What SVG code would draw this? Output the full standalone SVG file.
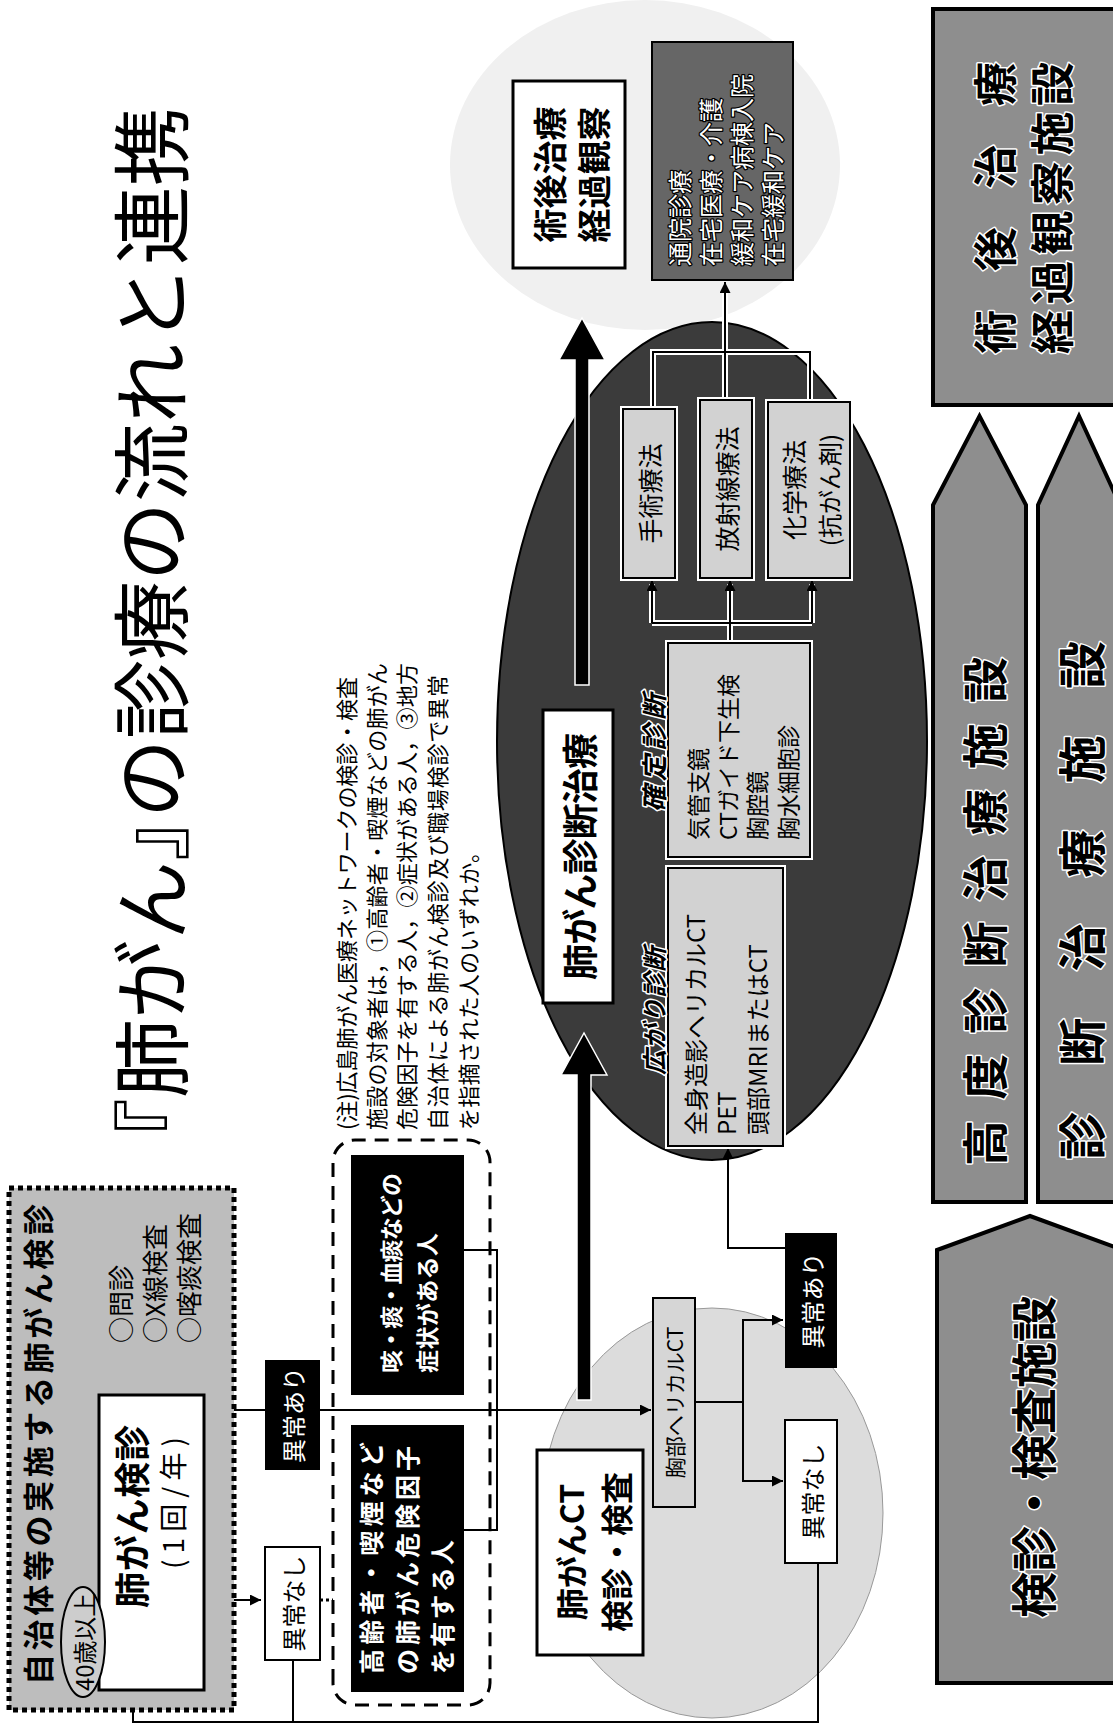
<svg xmlns="http://www.w3.org/2000/svg" width="1113" height="1732" viewBox="0 0 1113 1732">
<defs>
<style>
text{font-family:"Noto Sans CJK JP","Noto Sans CJK SC",sans-serif;dominant-baseline:central;fill:#000}
.c{stroke:#000;stroke-width:2;fill:none}
.cw{stroke:#fff;stroke-width:6;fill:none}
.wt{fill:#fff}
.b{font-weight:bold}
.halo{fill:#000;stroke:#fff;stroke-width:3;paint-order:stroke;stroke-linejoin:round}
.whalo{fill:#fff;stroke:#000;stroke-width:2.5;paint-order:stroke;stroke-linejoin:round}
.wbox{fill:#fff;stroke:#000;stroke-width:3}
.lb{fill:#d2d2d2;stroke:#000;stroke-width:2}
.rim{fill:none;stroke:#fff;stroke-width:6}
.fac{fill:#8e8e8e;stroke:#000;stroke-width:4}
.mid{text-anchor:middle}
.big{fill:#000;stroke:#fff;stroke-width:1.5}
</style>
<marker id="ah" viewBox="0 0 10 10" refX="10" refY="5" markerWidth="13" markerHeight="11" markerUnits="userSpaceOnUse" orient="auto"><path d="M0,0L10,5L0,10z" fill="#000"/></marker>
</defs>
<rect width="1113" height="1732" fill="#fff"/>
<g transform="translate(0 1732) rotate(-90)">

<g id="backgrounds">
<ellipse id="area-followup" cx="1567" cy="645" rx="165" ry="195" fill="#f0f0f0"/>
<ellipse id="area-ct" cx="219" cy="712" rx="205" ry="171" fill="#dcdcdc" stroke="#999" stroke-width="1"/>
<ellipse id="area-diagnosis" cx="991" cy="712" rx="419" ry="215" fill="#3b3b3b" stroke="#000" stroke-width="2"/>
</g>

<g id="n-title"><text x="555" y="147" font-size="79">『肺がん』<tspan dx="-36">の診療の流れと連携</tspan></text></g>

<g id="n-note" font-size="22">
<text x="602" y="345" textLength="453" lengthAdjust="spacing">(注)広島肺がん医療ネットワークの検診・検査</text>
<text x="602" y="375" textLength="467" lengthAdjust="spacing">施設の対象者は，①高齢者・喫煙などの肺がん</text>
<text x="602" y="405" textLength="467" lengthAdjust="spacing">危険因子を有する人，②症状がある人，③地方</text>
<text x="602" y="436" textLength="455" lengthAdjust="spacing">自治体による肺がん検診及び職場検診で異常</text>
<text x="602" y="467" textLength="289" lengthAdjust="spacing">を指摘された人のいずれか。</text>
</g>

<g id="connectors">
<path class="c" d="M220 204 L220 222"/>
<path class="c" d="M322 222 L132 222 L132 261" marker-end="url(#ah)"/>
<path class="c" d="M322 222 L322 651" marker-end="url(#ah)"/>
<path d="M132 320 L132 333" stroke="#000" stroke-width="3" stroke-dasharray="3 3"/>
<path class="c" d="M482 464 L482 497 L202 497 L202 464"/>
<path class="c" d="M72 293 L10 293"/>
<path class="c" d="M169 818 L10 818 L10 133 L40 133" marker-end="url(#ah)"/>
<path class="c" d="M330 695 L330 743"/>
<path class="c" d="M330 743 L412 743 L412 783" marker-end="url(#ah)"/>
<path class="c" d="M330 743 L251 743 L251 783" marker-end="url(#ah)"/>
<path class="c" d="M484 785 L484 728 L584 728" marker-end="url(#ah)"/>
<path class="cw" d="M1109 652 L1109 812 M1109 652 L1148 652 M1089 730 L1148 730 M1109 812 L1148 812"/>
<path class="c" d="M1109 652 L1109 812"/>
<path class="c" d="M1109 652 L1152 652" marker-end="url(#ah)"/>
<path class="c" d="M1089 730 L1152 730" marker-end="url(#ah)"/>
<path class="c" d="M1109 812 L1152 812" marker-end="url(#ah)"/>
<path class="cw" d="M1323 653 L1380 653 L1380 810 L1330 810 M1332 725 L1445 725"/>
<path class="c" d="M1323 653 L1380 653 L1380 810 L1330 810"/>
<path class="c" d="M1332 725 L1450 725" marker-end="url(#ah)"/>
<polygon class="big" points="332,577 657,577 657,561 699,584 657,607 657,591 332,591"/>
<polygon class="big" points="1047,575 1372,575 1372,559 1414,582 1372,605 1372,589 1047,589"/>
</g>

<g id="n-municipal">
<rect x="22" y="9" width="522" height="225" fill="#bdbdbd" stroke="#000" stroke-width="5" stroke-dasharray="5 4"/>
<text x="47" y="36" font-size="31" class="b" textLength="481" lengthAdjust="spacing">自治体等の実施する肺がん検診</text>
<text x="389" y="119" font-size="26">○問診</text>
<text x="389" y="153" font-size="26">○X線検査</text>
<text x="389" y="187" font-size="26">○喀痰検査</text>
</g>
<g id="n-screening">
<rect x="42" y="99" width="295" height="105" class="wbox" fill="#f2f2f2"/>
<text x="124" y="130" font-size="36" class="b" textLength="183" lengthAdjust="spacing">肺がん検診</text>
<text x="163" y="172" font-size="28" textLength="132" lengthAdjust="spacing">(1回/年)</text>
</g>
<g id="n-age">
<ellipse cx="90" cy="83" rx="55" ry="22" fill="#cdcdcd" stroke="#000" stroke-width="2"/>
<text x="90" y="83" font-size="24" class="mid" textLength="98" lengthAdjust="spacingAndGlyphs">40歳以上</text>
</g>

<g id="n-abnormal1"><rect x="262" y="265" width="110" height="55" fill="#000"/><text x="317" y="292.5" font-size="24" class="mid wt">異常あり</text></g>
<g id="n-normal1"><rect x="72" y="265" width="113" height="55" fill="#fff" stroke="#000" stroke-width="2"/><text x="128.5" y="292.5" font-size="24" class="mid">異常なし</text></g>

<g id="n-targets"><rect x="27" y="333" width="565" height="157" rx="22" fill="none" stroke="#000" stroke-width="3" stroke-dasharray="14 9"/></g>
<g id="n-risk">
<rect x="40" y="351" width="267" height="113" fill="#000"/>
<text x="58" y="370" font-size="25" class="wt b" textLength="232" lengthAdjust="spacing">高齢者・喫煙など</text>
<text x="58" y="406" font-size="25" class="wt b" textLength="228" lengthAdjust="spacing">の肺がん危険因子</text>
<text x="58" y="441" font-size="25" class="wt b" textLength="134" lengthAdjust="spacing">を有する人</text>
</g>
<g id="n-symptom">
<rect x="337" y="351" width="240" height="113" fill="#000"/>
<text x="359" y="390" font-size="23" class="wt b" textLength="200" lengthAdjust="spacing">咳・痰・血痰などの</text>
<text x="359" y="426" font-size="23" class="wt b" textLength="140" lengthAdjust="spacing">症状がある人</text>
</g>

<g id="n-ct">
<rect x="77" y="537" width="205" height="106" class="wbox"/>
<text x="180" y="570" font-size="32" class="mid b">肺がんCT</text>
<text x="180" y="615" font-size="32" class="mid b">検診・検査</text>
</g>
<g id="n-helical"><rect x="225" y="653" width="209" height="42" fill="#d6d6d6" stroke="#000" stroke-width="2"/><text x="329.5" y="674" font-size="21" class="mid">胸部ヘリカルCT</text></g>
<g id="n-abnormal2"><rect x="364" y="785" width="135" height="52" fill="#000"/><text x="431.5" y="811" font-size="24" class="mid wt">異常あり</text></g>
<g id="n-normal2"><rect x="169" y="785" width="143" height="52" fill="#fff" stroke="#000" stroke-width="2"/><text x="240.5" y="811" font-size="24" class="mid">異常なし</text></g>

<g id="n-diagnosis"><rect x="729" y="543" width="293" height="70" class="wbox"/><text x="875.5" y="578" font-size="36" class="mid b" textLength="247" lengthAdjust="spacing">肺がん診断治療</text></g>
<g id="n-staging">
<rect x="586" y="668" width="278" height="115" class="rim"/>
<rect x="586" y="668" width="278" height="115" class="lb"/>
<text x="657" y="653" font-size="25" font-style="italic" class="halo b" textLength="128" lengthAdjust="spacing">広がり診断</text>
<text x="597" y="694" font-size="24">全身造影ヘリカルCT</text>
<text x="597" y="725" font-size="24">PET</text>
<text x="597" y="756" font-size="24">頭部MRIまたはCT</text>
</g>
<g id="n-confirm">
<rect x="875" y="668" width="214" height="142" class="rim"/>
<rect x="875" y="668" width="214" height="142" class="lb"/>
<text x="920" y="652" font-size="26" font-style="italic" class="halo b" textLength="118" lengthAdjust="spacing">確定診断</text>
<text x="892" y="697" font-size="23">気管支鏡</text>
<text x="892" y="727" font-size="23">CTガイド下生検</text>
<text x="892" y="756" font-size="23">胸腔鏡</text>
<text x="892" y="787" font-size="23">胸水細胞診</text>
</g>
<g id="n-surgery"><rect x="1154" y="623" width="169" height="52" class="rim"/><rect x="1154" y="623" width="169" height="52" class="lb"/><text x="1238.5" y="649" font-size="25" class="mid">手術療法</text></g>
<g id="n-radiation"><rect x="1154" y="700" width="178" height="52" class="rim"/><rect x="1154" y="700" width="178" height="52" class="lb"/><text x="1243" y="726" font-size="25" class="mid">放射線療法</text></g>
<g id="n-chemo"><rect x="1154" y="768" width="176" height="82" class="rim"/><rect x="1154" y="768" width="176" height="82" class="lb"/><text x="1242" y="793" font-size="25" class="mid">化学療法</text><text x="1242" y="828" font-size="24" class="mid">(抗がん剤)</text></g>

<g id="n-followup"><rect x="1464" y="513" width="187" height="112" class="wbox" fill="#f4f4f4"/><text x="1557.5" y="548" font-size="34" class="mid b">術後治療</text><text x="1557.5" y="592" font-size="34" class="mid b">経過観察</text></g>
<g id="n-care">
<rect x="1452" y="652" width="238" height="141" fill="#666" stroke="#000" stroke-width="2"/>
<text x="1466" y="678" font-size="24" class="whalo">通院診療</text>
<text x="1466" y="709" font-size="24" class="whalo">在宅医療・介護</text>
<text x="1466" y="740" font-size="24" class="whalo">緩和ケア病棟入院</text>
<text x="1466" y="771" font-size="24" class="whalo">在宅緩和ケア</text>
</g>

<g id="n-fac-post"><rect x="1327" y="933" width="396" height="190" class="fac"/>
<text x="1378" y="993" font-size="44" class="halo b" textLength="292" lengthAdjust="spacing">術 後 治 療</text>
<text x="1378" y="1050" font-size="44" class="halo b" textLength="292" lengthAdjust="spacing">経過観察施設</text></g>
<g id="n-fac-advanced"><polygon class="fac" points="530,933 1227,933 1316,979.5 1227,1026 530,1026"/>
<text x="566" y="982" font-size="46" class="halo b" textLength="509" lengthAdjust="spacing">高度診断治療施設</text></g>
<g id="n-fac-diag"><polygon class="fac" points="530,1038 1227,1038 1316,1079 1227,1120 530,1120"/>
<text x="572" y="1079" font-size="48" class="halo b" textLength="519" lengthAdjust="spacing">診 断 治 療 施 設</text></g>
<g id="n-fac-screen"><polygon class="fac" points="49,937 482,937 516,1030 482,1123 49,1123"/>
<text x="114" y="1031" font-size="46" class="halo b" textLength="322" lengthAdjust="spacing">検診・検査施設</text></g>
</g>
</svg>
